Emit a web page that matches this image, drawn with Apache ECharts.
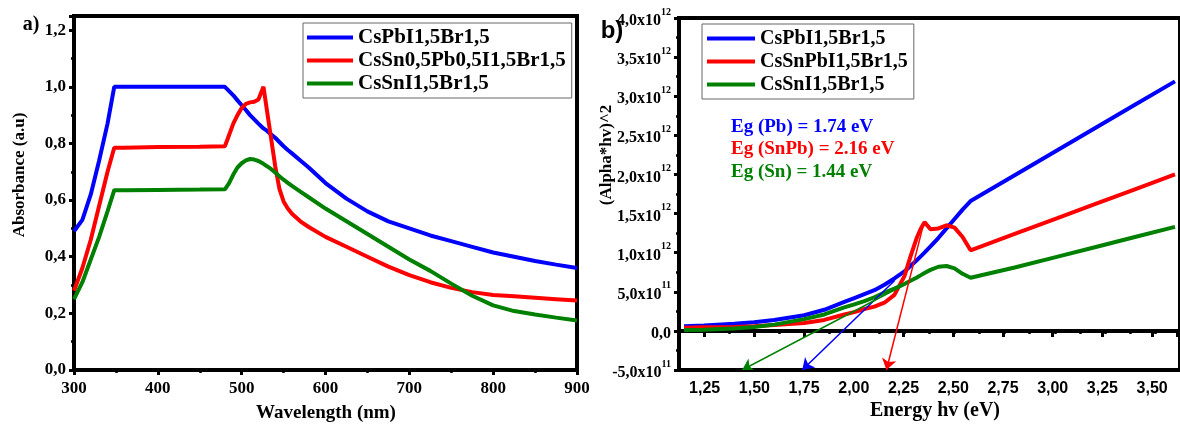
<!DOCTYPE html>
<html>
<head>
<meta charset="utf-8">
<script src="https://cdn.jsdelivr.net/npm/echarts/dist/echarts.min.js"></script>
<style>
  html, body { margin: 0; padding: 0; background: #fff; }
  #chart { width: 1180px; height: 425px; }
</style>
</head>
<body>
<div id="chart"></div>
<script>
// ---- a) absorbance spectra ----
const wavelength = [300,310,320,330,340,348,360,400,450,480,485,490,495,500,505,510,515,520,526,530,535,540,545,550,555,560,570,580,600,625,650,675,700,725,750,775,800,825,850,875,900];
const absPb   = [0.49,0.53,0.62,0.74,0.87,1.0,1.0,1.0,1.0,1.0,0.985,0.97,0.952,0.935,0.918,0.90,0.885,0.87,0.853,0.845,0.832,0.82,0.805,0.79,0.777,0.765,0.74,0.715,0.66,0.605,0.56,0.525,0.50,0.475,0.455,0.435,0.415,0.40,0.385,0.372,0.36];
const absSnPb = [0.28,0.36,0.46,0.58,0.70,0.785,0.785,0.787,0.788,0.79,0.83,0.87,0.90,0.925,0.94,0.945,0.947,0.955,1.0,0.92,0.82,0.72,0.64,0.595,0.57,0.552,0.525,0.505,0.47,0.435,0.40,0.365,0.335,0.31,0.29,0.275,0.265,0.26,0.255,0.25,0.245];
const absSn   = [0.25,0.31,0.39,0.47,0.56,0.635,0.635,0.636,0.637,0.638,0.66,0.69,0.715,0.73,0.74,0.745,0.743,0.738,0.728,0.72,0.71,0.697,0.684,0.672,0.661,0.65,0.63,0.61,0.57,0.525,0.48,0.435,0.39,0.35,0.305,0.262,0.228,0.208,0.196,0.185,0.175];
const namesA = ['CsPbI1,5Br1,5', 'CsSn0,5Pb0,5I1,5Br1,5', 'CsSnI1,5Br1,5'];

// ---- b) Tauc plot, (alpha*hv)^2 in units of 1e12 ----
const energy = [1.15,1.25,1.4,1.5,1.6,1.75,1.85,1.95,2.0,2.05,2.1,2.15,2.2,2.25,2.28,2.31,2.33,2.35,2.38,2.42,2.46,2.5,2.54,2.58,2.8,3.0,3.2,3.4,3.6];
const taucPb   = [0.06,0.07,0.09,0.11,0.14,0.2,0.27,0.37,0.42,0.47,0.52,0.59,0.67,0.76,0.83,0.9,0.95,1.0,1.08,1.19,1.31,1.43,1.55,1.66,1.99,2.29,2.59,2.89,3.19];
const taucSnPb = [0.04,0.045,0.05,0.06,0.075,0.1,0.14,0.21,0.24,0.28,0.31,0.36,0.46,0.7,0.95,1.18,1.3,1.39,1.3,1.31,1.35,1.32,1.2,1.03,1.24,1.43,1.62,1.81,2.0];
const taucSn   = [0.01,0.015,0.03,0.05,0.08,0.15,0.21,0.3,0.34,0.38,0.43,0.49,0.54,0.6,0.64,0.68,0.71,0.74,0.78,0.82,0.83,0.8,0.73,0.68,0.81,0.94,1.07,1.2,1.33];
const namesB = ['CsPbI1,5Br1,5', 'CsSnPbI1,5Br1,5', 'CsSnI1,5Br1,5'];

// band gaps (eV) and the upper end of each tangent (energy, value)
const bandGap = [1.74, 2.16, 1.44];
const gapTags = ['Pb', 'SnPb', 'Sn'];
const tangentStart = [[2.2, 0.64], [2.348, 1.39], [2.25, 0.59]];
const tangentFloor = -0.5;

const colors = ['#0000ff', '#ff0000', '#008000'];
const SERIF = '"Liberation Serif", "Times New Roman", serif';
const SANS = '"Liberation Sans", Arial, sans-serif';

const chart = echarts.init(document.getElementById('chart'), null, { renderer: 'canvas' });

const zip = (xs, ys) => xs.map((x, i) => [x, ys[i]]);

const axisLine = { lineStyle: { color: '#000', width: 4 } };
const tickMajor = (len) => ({ show: true, inside: false, length: len, lineStyle: { color: '#000', width: 3 } });
const tickMinor = { show: true, splitNumber: 2, length: 3, lineStyle: { color: '#000', width: 2.5 } };
const serifLabel = (size, margin) => ({ color: '#000', fontFamily: SERIF, fontWeight: 'bold', fontSize: size, margin: margin });

function decimalComma(v, d) { return v.toFixed(d).replace('.', ','); }

function sciLabel(v) {
  const r = Math.round(v * 100) / 100;
  if (Math.abs(r) < 1e-9) return '{m|0,0}';
  if (Math.abs(r) >= 1) return '{m|' + decimalComma(r, 1) + 'x10}{e|12}';
  return '{m|' + decimalComma(r * 10, 1) + 'x10}{e|11}';
}

const lineSeries = (name, data, color, xi) => ({
  name: name, type: 'line', xAxisIndex: xi, yAxisIndex: xi, data: data,
  showSymbol: false, symbol: 'none', smooth: false, clip: true,
  lineStyle: { color: color, width: 4 }, itemStyle: { color: color }, z: 3
});

const legendBase = {
  orient: 'vertical', icon: 'rect', itemHeight: 4, itemGap: 2, selectedMode: false,
  backgroundColor: '#fff', borderColor: '#666', borderWidth: 1
};
const legendText = (size) => ({ color: '#000', fontFamily: SERIF, fontWeight: 'bold', fontSize: size, lineHeight: 21 });

const option = {
  animation: false,
  backgroundColor: '#fff',
  grid: [
    { left: 74, top: 16, width: 503, height: 354, show: true, borderColor: '#000', borderWidth: 4, backgroundColor: 'transparent' },
    { left: 679, top: 18, width: 513, height: 352, show: true, borderColor: '#000', borderWidth: 4, backgroundColor: 'transparent' },
    { left: 704.66, top: 18, width: 487.6, height: 352, show: false }
  ],
  xAxis: [
    {
      gridIndex: 0, type: 'value', min: 300, max: 900, interval: 100,
      axisLine: axisLine, axisTick: tickMajor(5), minorTick: tickMinor, splitLine: { show: false },
      axisLabel: serifLabel(17, 10)
    },
    {
      gridIndex: 1, type: 'value', min: 1.125, max: 3.625, interval: 0.125,
      axisLine: axisLine, axisTick: { show: true, length: 3, lineStyle: { color: '#000', width: 2.5 } },
      splitLine: { show: false }, axisLabel: { show: false }
    },
    {
      gridIndex: 2, type: 'value', min: 1.25, max: 3.625, interval: 0.25,
      axisLine: { show: false }, axisTick: tickMajor(6), splitLine: { show: false },
      axisLabel: {
        color: '#000', fontFamily: SANS, fontWeight: 'bold', fontSize: 16, margin: 11,
        formatter: v => (Math.abs(v / 0.25 - Math.round(v / 0.25)) < 1e-6 ? decimalComma(v, 2) : '')
      }
    }
  ],
  yAxis: [
    {
      gridIndex: 0, type: 'value', min: 0, max: 1.25, interval: 0.2,
      axisLine: axisLine, axisTick: tickMajor(5), minorTick: tickMinor, splitLine: { show: false },
      axisLabel: Object.assign(serifLabel(17, 8), {
        formatter: v => (Math.abs(v / 0.2 - Math.round(v / 0.2)) < 1e-6 ? decimalComma(v, 1) : '')
      })
    },
    {
      gridIndex: 1, type: 'value', min: -0.5, max: 4, interval: 0.5,
      axisLine: axisLine, axisTick: tickMajor(5), minorTick: tickMinor, splitLine: { show: false },
      axisLabel: {
        margin: 8, formatter: sciLabel,
        rich: {
          m: { color: '#000', fontFamily: SERIF, fontWeight: 'bold', fontSize: 16, lineHeight: 22, verticalAlign: 'bottom' },
          e: { color: '#000', fontFamily: SERIF, fontWeight: 'bold', fontSize: 10, lineHeight: 10, verticalAlign: 'top' }
        }
      }
    },
    { gridIndex: 2, type: 'value', min: -0.5, max: 4, show: false }
  ],
  legend: [
    Object.assign({}, legendBase, {
      left: 303, top: 23, itemWidth: 46, padding: [4, 6, 4, 4],
      textStyle: legendText(21), data: namesA
    }),
    Object.assign({}, legendBase, {
      left: 702, top: 24, itemWidth: 48, padding: [4, 6, 4, 5],
      textStyle: legendText(20), data: namesB
    })
  ],
  series: [
    lineSeries(namesA[0], zip(wavelength, absPb), colors[0], 0),
    lineSeries(namesA[1], zip(wavelength, absSnPb), colors[1], 0),
    lineSeries(namesA[2], zip(wavelength, absSn), colors[2], 0),
    lineSeries(namesB[0], zip(energy, taucPb), colors[0], 1),
    lineSeries(namesB[1], zip(energy, taucSnPb), colors[1], 1),
    lineSeries(namesB[2], zip(energy, taucSn), colors[2], 1),
    {
      type: 'lines', coordinateSystem: 'cartesian2d', xAxisIndex: 1, yAxisIndex: 1,
      symbol: ['none', 'arrow'], symbolSize: [8, 11], z: 10, silent: true,
      data: bandGap.map((g, i) => ({
        coords: [tangentStart[i], [g, tangentFloor]],
        lineStyle: { color: colors[i], width: 1.5, opacity: 1 }
      }))
    }
  ],
  graphic: [
    { type: 'text', x: 31, y: 25, style: { text: 'a)', font: 'bold 20px ' + SERIF, fill: '#000', align: 'center', verticalAlign: 'middle' } },
    { type: 'text', x: 612, y: 31, style: { text: 'b)', font: 'bold 24px ' + SANS, fill: '#000', align: 'center', verticalAlign: 'middle' } },
    { type: 'text', x: 20, y: 175, rotation: Math.PI / 2, style: { text: 'Absorbance (a.u)', font: 'bold 17px ' + SERIF, fill: '#000', align: 'center', verticalAlign: 'middle' } },
    { type: 'text', x: 607, y: 155, rotation: Math.PI / 2, style: { text: '(Alpha*hv)^2', font: 'bold 17px ' + SERIF, fill: '#000', align: 'center', verticalAlign: 'middle' } },
    { type: 'text', x: 326, y: 413, style: { text: 'Wavelength (nm)', font: 'bold 19px ' + SERIF, fill: '#000', align: 'center', verticalAlign: 'middle' } },
    { type: 'text', x: 935, y: 411, style: { text: 'Energy hv (eV)', font: 'bold 20px ' + SERIF, fill: '#000', align: 'center', verticalAlign: 'middle' } }
  ].concat(bandGap.map((g, i) => ({
    type: 'text', x: 731, y: 127 + i * 22.5,
    style: { text: 'Eg (' + gapTags[i] + ') = ' + g.toFixed(2) + ' eV', font: 'bold 19px ' + SERIF, fill: colors[i], align: 'left', verticalAlign: 'middle' }
  })))
};

chart.setOption(option);
</script>
</body>
</html>
